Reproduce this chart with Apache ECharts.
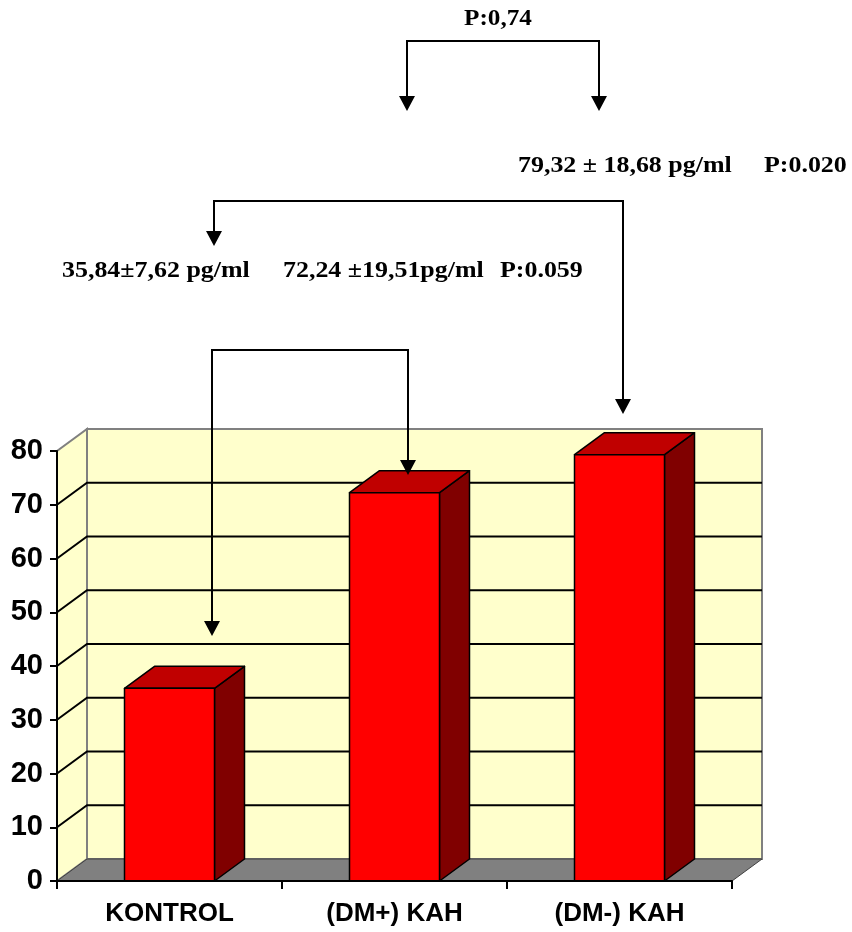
<!DOCTYPE html>
<html>
<head>
<meta charset="utf-8">
<script src="https://cdn.jsdelivr.net/npm/echarts@6/dist/echarts.min.js"></script>
<style>
  html, body { margin: 0; padding: 0; background: #ffffff; }
  #chart { width: 852px; height: 932px; }
</style>
</head>
<body>
<div id="chart"></div>
<script>
// Group names and mean concentrations (pg/ml)
const categories = ['KONTROL', '(DM+) KAH', '(DM-) KAH'];
const meanValues = [35.84, 72.24, 79.32];
const sdValues = [7.62, 19.51, 18.68];
const pValues = ['P:0.059', 'P:0.020', 'P:0,74'];
const yTicks = [0, 10, 20, 30, 40, 50, 60, 70, 80];

// Oblique depth offset of the pseudo-3D box (pixels)
const DX = 30, DY = -22;
const BAR_RATIO = 0.4;

const fmt = v => v.toFixed(2).replace('.', ',');
const meanLabels = [
  fmt(meanValues[0]) + '±' + fmt(sdValues[0]) + ' pg/ml',
  fmt(meanValues[1]) + ' ±' + fmt(sdValues[1]) + 'pg/ml',
  fmt(meanValues[2]) + ' ± ' + fmt(sdValues[2]) + ' pg/ml'
];

const chart = echarts.init(document.getElementById('chart'), null, { renderer: 'canvas' });

// Back wall, left wall and floor of the 3D box
function renderWalls(params, api) {
  const cs = params.coordSys;
  const l = cs.x, t = cs.y, r = cs.x + cs.width, b = cs.y + cs.height;
  return {
    type: 'group',
    children: [
      { type: 'rect', shape: { x: l + DX, y: t + DY, width: cs.width, height: cs.height },
        style: { fill: '#FFFFCC', stroke: '#808080', lineWidth: 2 } },
      { type: 'polygon', shape: { points: [[l, b], [l + DX, b + DY], [l + DX, t + DY], [l, t]] },
        style: { fill: '#FFFFCC', stroke: '#808080', lineWidth: 2 } },
      { type: 'polygon', shape: { points: [[l, b], [r, b], [r + DX, b + DY], [l + DX, b + DY]] },
        style: { fill: '#808080', stroke: '#404040', lineWidth: 1 } }
    ]
  };
}

// Gridline running across the left wall and the back wall
function renderGridLine(params, api) {
  const cs = params.coordSys;
  const y = api.coord([0, api.value(1)])[1];
  return {
    type: 'polyline',
    shape: { points: [[cs.x, y], [cs.x + DX, y + DY], [cs.x + cs.width + DX, y + DY]] },
    style: { stroke: '#000000', lineWidth: 2, fill: null }
  };
}

// Box-shaped column: front face, top face and right side face
function renderBar(params, api) {
  const idx = api.value(0);
  const base = api.coord([idx, 0]);
  const top = api.coord([idx, api.value(1)]);
  const bw = api.size([1, 0])[0] * BAR_RATIO;
  const x0 = base[0] - bw / 2, x1 = base[0] + bw / 2;
  const y0 = base[1], y1 = top[1];
  const edge = { stroke: '#000000', lineWidth: 1.5, lineJoin: 'round' };
  return {
    type: 'group',
    children: [
      { type: 'polygon', shape: { points: [[x1, y1], [x1, y0], [x1 + DX, y0 + DY], [x1 + DX, y1 + DY]] },
        style: Object.assign({ fill: '#800000' }, edge) },
      { type: 'polygon', shape: { points: [[x0, y1], [x1, y1], [x1 + DX, y1 + DY], [x0 + DX, y1 + DY]] },
        style: Object.assign({ fill: '#C00000' }, edge) },
      { type: 'rect', shape: { x: x0, y: y1, width: bw, height: y0 - y1 },
        style: Object.assign({ fill: '#FF0000' }, edge) }
    ]
  };
}

// Bracket connector with arrowheads at both ends
function bracket(xa, xb, yTop, tipA, tipB) {
  const head = 15, half = 8;
  const line = { stroke: '#000000', lineWidth: 2, fill: null };
  return [
    { type: 'polyline', shape: { points: [[xa, tipA - head + 1], [xa, yTop], [xb, yTop], [xb, tipB - head + 1]] }, style: line },
    { type: 'polygon', shape: { points: [[xa - half, tipA - head], [xa + half, tipA - head], [xa, tipA]] }, style: { fill: '#000000' } },
    { type: 'polygon', shape: { points: [[xb - half, tipB - head], [xb + half, tipB - head], [xb, tipB]] }, style: { fill: '#000000' } }
  ];
}

const serifFont = '"Liberation Serif", "Times New Roman", serif';
function note(text, x, baseline, align, sx) {
  const fs = 24;
  return {
    type: 'text', x: x, y: baseline - 0.32 * fs, scaleX: sx || 1.08,
    style: { text: text, x: 0, y: 0, fill: '#000000', fontFamily: serifFont, fontWeight: 'bold',
             fontSize: fs, align: align || 'left', verticalAlign: 'middle' }
  };
}

const option = {
  backgroundColor: '#ffffff',
  animation: false,
  grid: { left: 57, top: 451, width: 675, height: 430, containLabel: false },
  xAxis: {
    type: 'category',
    data: categories,
    z: 10,
    axisLine: { show: true, lineStyle: { color: '#000000', width: 2 } },
    axisTick: { show: true, length: 8, lineStyle: { color: '#000000', width: 2 } },
    axisLabel: { color: '#000000', fontFamily: '"Liberation Sans", Arial, sans-serif', fontWeight: 'bold', fontSize: 26, margin: 20 },
    splitLine: { show: false }
  },
  yAxis: {
    type: 'value',
    min: yTicks[0],
    max: yTicks[yTicks.length - 1],
    interval: yTicks[1] - yTicks[0],
    z: 10,
    axisLine: { show: true, lineStyle: { color: '#000000', width: 2 } },
    axisTick: { show: true, length: 7, lineStyle: { color: '#000000', width: 2 } },
    axisLabel: { color: '#000000', fontFamily: '"Liberation Sans", Arial, sans-serif', fontWeight: 'bold', fontSize: 29, margin: 14 },
    splitLine: { show: false }
  },
  series: [
    { type: 'custom', z: 1, silent: true, renderItem: renderWalls, data: [[0, 0]], encode: { x: 0, y: 1 } },
    { type: 'custom', z: 2, silent: true, renderItem: renderGridLine,
      data: yTicks.slice(1, -1).map(v => [0, v]), encode: { x: 0, y: 1 } },
    { type: 'custom', z: 3, renderItem: renderBar,
      data: meanValues.map((v, i) => [i, v]), encode: { x: 0, y: 1 } }
  ],
  graphic: {
    elements: [].concat(
      bracket(407, 599, 41, 111, 111),
      bracket(214, 623, 201, 246, 414),
      bracket(212, 408, 350, 636, 475),
      [
        note(pValues[2], 498, 26, 'center', 1.05),
        note(meanLabels[2], 518, 173),
        note(pValues[1], 764, 173),
        note(meanLabels[0], 62, 278),
        note(meanLabels[1], 283, 278),
        note(pValues[0], 500, 278)
      ]
    ).map(e => Object.assign({ z: 100 }, e))
  }
};

chart.setOption(option);
</script>
</body>
</html>
